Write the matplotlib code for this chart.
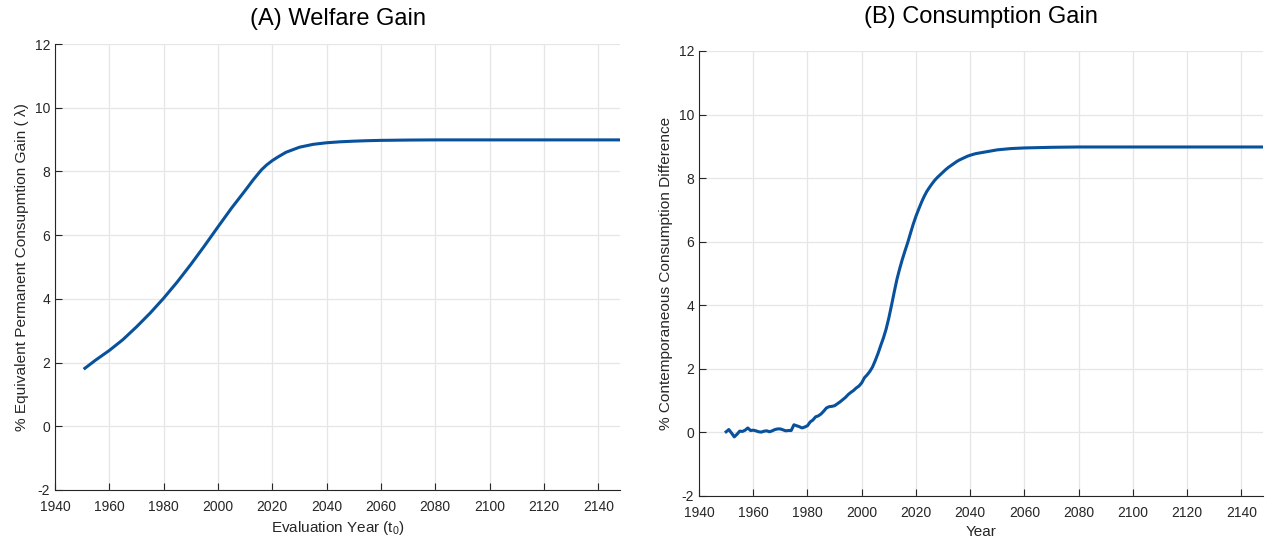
import matplotlib.pyplot as plt

plt.rcParams['font.family'] = ['Liberation Sans', 'DejaVu Sans']
plt.rcParams['axes.unicode_minus'] = False

# (A) 福利收益
years_a = [1951, 1955, 1960, 1965, 1970, 1975, 1980, 1985, 1990, 1995, 2000, 2005,
           2010, 2013, 2016, 2018, 2020, 2022, 2025, 2030, 2035, 2040, 2045, 2050,
           2055, 2060, 2070, 2080, 2148]
welfare = [1.82, 2.08, 2.38, 2.72, 3.12, 3.55, 4.02, 4.53, 5.08, 5.66, 6.26, 6.85,
           7.40, 7.74, 8.05, 8.21, 8.34, 8.45, 8.60, 8.76, 8.85, 8.90, 8.93, 8.95,
           8.965, 8.975, 8.985, 8.99, 8.99]

# (B) 消费收益
years_b = list(range(1950, 2041)) + [2042, 2044, 2046, 2048, 2050, 2055, 2060, 2065,
                                     2070, 2080, 2148]
consumption = [0.02, 0.09, -0.02, -0.14, -0.06, 0.04, 0.03, 0.07, 0.14, 0.06,
               0.07, 0.05, 0.02, 0.01, 0.04, 0.05, 0.02, 0.05, 0.09, 0.11,
               0.11, 0.08, 0.05, 0.06, 0.06, 0.24, 0.21, 0.18, 0.14, 0.17,
               0.21, 0.33, 0.39, 0.49, 0.52, 0.58, 0.67, 0.77, 0.81, 0.82,
               0.84, 0.90, 0.96, 1.03, 1.10, 1.19, 1.26, 1.32, 1.40, 1.46,
               1.56, 1.72, 1.81, 1.92, 2.06, 2.26, 2.48, 2.73, 2.97, 3.25,
               3.60, 4.00, 4.42, 4.82, 5.15, 5.45, 5.72, 5.98, 6.27, 6.55,
               6.80, 7.02, 7.23, 7.42, 7.58, 7.71, 7.83, 7.94, 8.03, 8.11,
               8.19, 8.27, 8.34, 8.40, 8.46, 8.52, 8.57, 8.61, 8.65, 8.69,
               8.72, 8.77, 8.80, 8.83, 8.86, 8.89, 8.93, 8.95, 8.96, 8.97,
               8.98, 8.98]

line_color = '#08519c'
grey = '#262626'

fig = plt.figure(figsize=(12.7, 5.46), dpi=100)
ax1 = fig.add_axes([0.0433, 0.1026, 0.4449, 0.8168])
ax2 = fig.add_axes([0.5504, 0.0916, 0.4441, 0.8150])


def style(ax):
    ax.set_xlim(1940, 2148)
    ax.set_ylim(-2, 12)
    ax.set_xticks(range(1940, 2141, 20))
    ax.set_yticks(range(-2, 13, 2))
    ax.grid(True, color='#e6e6e6', linewidth=0.9)
    ax.set_axisbelow(True)
    for s in ['top', 'right']:
        ax.spines[s].set_visible(False)
    for s in ['left', 'bottom']:
        ax.spines[s].set_color(grey)
        ax.spines[s].set_linewidth(0.8)
    ax.tick_params(direction='in', length=5, width=0.8, colors=grey,
                   labelsize=10, labelcolor=grey)
    ax.tick_params(axis='x', pad=7)


ax1.plot(years_a, welfare, color=line_color, linewidth=2.2)
style(ax1)
ax1.set_title('(A) Welfare Gain', fontsize=17, pad=14)
ax1.set_xlabel(r'Evaluation Year (t$_\mathregular{0}$)', fontsize=11, color=grey, labelpad=4)
ax1.set_ylabel('% Equivalent Permanent Consupmtion Gain ( λ)', fontsize=11.1, color=grey)

ax2.plot(years_b, consumption, color=line_color, linewidth=2.2)
style(ax2)
ax2.set_title('(B) Consumption Gain', fontsize=17, pad=20)
ax2.set_xlabel('Year', fontsize=11, color=grey, labelpad=4)
ax2.set_ylabel('% Contemporaneous Consumption Difference', fontsize=11.1, color=grey)

fig.savefig('out.png', dpi=100)
